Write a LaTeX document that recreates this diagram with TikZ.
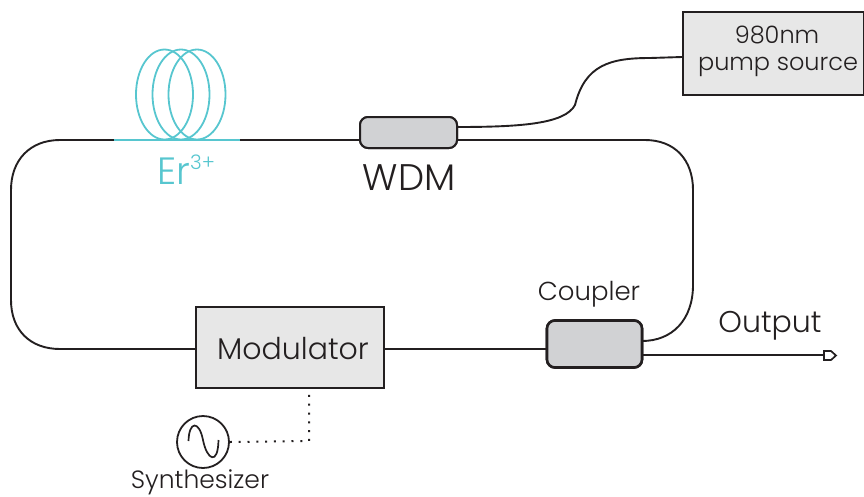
\documentclass[tikz,border=0pt]{standalone}
\usepackage{fontspec}
\setmainfont{Poppins Light}
\usetikzlibrary{calc}
\definecolor{teal1}{HTML}{57C6CF}
\definecolor{boxg}{HTML}{E7E7E7}
\definecolor{coupg}{HTML}{D1D2D4}
\definecolor{ink}{HTML}{231F20}
\tikzset{
 fiber/.style={draw=ink,line width=1.9pt},
 blockbox/.style={draw=ink,fill=boxg,line width=1.8pt,inner sep=0pt,align=center},
 coupbox/.style={draw=ink,fill=coupg,rounded corners=8pt,inner sep=0pt},
 lab/.style={text=ink,inner sep=0pt},
 coil/.style={draw=teal1,line width=1.8pt},
}
\begin{document}
\begin{tikzpicture}[x=1pt,y=-1pt]
\useasboundingbox (0,0) rectangle (864,496);
\node[blockbox,minimum width=188pt,minimum height=81pt] (mod) at (290,347.5) {};
\node[blockbox,minimum width=181pt,minimum height=83pt] (pump) at (773.5,53.5) {};
\node[coupbox,line width=2pt,minimum width=97pt,minimum height=31pt] (wdm) at (408.5,132.5) {};
\node[coupbox,line width=2.6pt,minimum width=95pt,minimum height=47pt] (coup) at (594.5,344) {};
\coordinate (wL) at (360,140);
\coordinate (wR) at (457,140);
\coordinate (wP) at (457,127);
\coordinate (cT) at (642,341);
\coordinate (cO) at (642,355);
\coordinate (oEnd) at (823,355);
\coordinate (tL) at (114,140);
\coordinate (tR) at (240,140);
\draw[fiber] (wL) -- (60,140) .. controls (30,140) and (11,160) .. (11,190) -- (11,300) .. controls (11,330) and (30,349) .. (60,349) -- (mod.west |- 0,349);
\draw[fiber] (mod.east |- 0,349) -- (coup.west |- 0,349);
\draw[fiber] (wR) -- (645,140) .. controls (675,140) and (693,160) .. (693,190) -- (693,285) .. controls (693,320) and (672,341) .. (cT);
\draw[fiber] (wP) .. controls (520,127) and (565,124) .. (575,105) .. controls (585,65) and (610,58) .. (650,58) -- (pump.west |- 0,57);
\draw[fiber] (cO) -- (oEnd);
\draw[draw=ink,fill=white,line width=1.7pt] (824,351) -- (831,351) -- (836,355.5) -- (831,360) -- (824,360) -- cycle;
% erbium coil
\draw[coil] (tL) -- (tR);
\draw[draw=teal1,line width=2.6pt] (114,140) -- (131,140) (229,140) -- (240,140);
\draw[coil] (164.5,94.5) ellipse [x radius=28.5,y radius=45];
\draw[coil] (181,94.5) ellipse [x radius=28.5,y radius=45];
\draw[coil] (197,94.5) ellipse [x radius=28.5,y radius=45];
% boxes on top of the fibre ends
\node[blockbox,minimum width=188pt,minimum height=81pt] at (mod) {};
\node[blockbox,minimum width=181pt,minimum height=83pt] at (pump) {};
\node[coupbox,line width=2pt,minimum width=97pt,minimum height=31pt] at (wdm) {};
\node[coupbox,line width=2.6pt,minimum width=95pt,minimum height=47pt] at (coup) {};
% labels
\node[lab,font=\fontsize{30}{30}\selectfont] (modt) at (293,349) {Modulator};
\node[lab,font=\fontsize{24}{24}\selectfont] (p1) at (777,35) {980nm};
\node[lab,font=\fontsize{24}{24}\selectfont] (p2) at (778,67) {pump source};
\node[lab,font=\fontsize{37}{37}\selectfont] (wt) at (409,178) {WDM};
\node[lab,font=\fontsize{26}{26}\selectfont] (ct) at (589,294) {Coupler};
\node[lab,font=\fontsize{30}{30}\selectfont] (ot) at (770,326) {Output};
\node[lab,font=\fontsize{25}{25}\selectfont] (st) at (200,482) {Synthesizer};
\node[lab,text=teal1,font=\fontsize{38}{38}\selectfont,anchor=base west] (er) at (157,184) {Er\raisebox{15pt}{\fontsize{20}{20}\selectfont 3+}};
% synthesizer
\node[draw=ink,line width=1.8pt,circle,minimum size=52pt,inner sep=0pt] (syn) at (203,442) {};
\draw[draw=ink,line width=1.7pt] (188.5,441) .. controls (189,421) and (199,420) .. (203,440) .. controls (207,460) and (218,466) .. (218.5,440);
\coordinate (bend) at (309,441);
\draw[draw=ink,line width=2pt,dash pattern=on 2pt off 6.8pt] (syn.east) -- (bend) -- (mod.south -| bend);
\end{tikzpicture}
\end{document}
